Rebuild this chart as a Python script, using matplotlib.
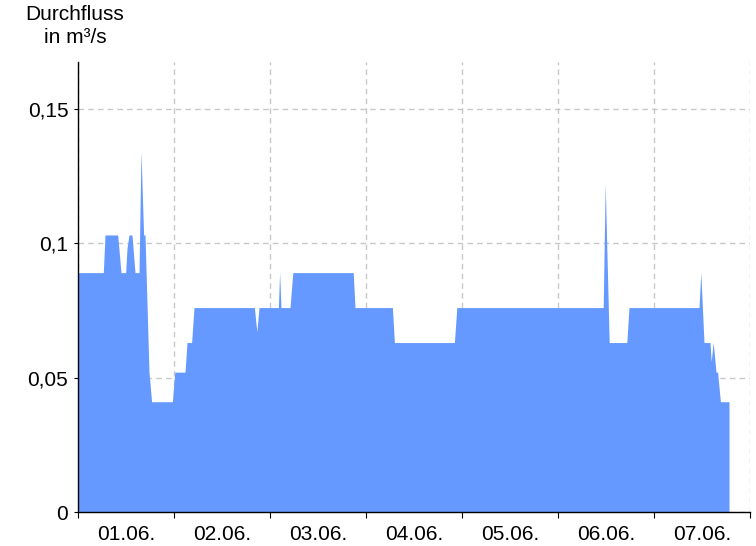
import matplotlib
matplotlib.use("Agg")
import matplotlib.pyplot as plt
import numpy as np

plt.rcParams['font.family'] = ['Liberation Sans', 'DejaVu Sans']

# hours since 01.06. 00:00 and discharge in m3/s
hours = [0, 6.33, 6.75, 9.92, 10.4, 10.75, 11.92, 12.25, 12.75, 13.5, 14.25,
         15.25, 15.75, 16.4, 16.75, 17.75, 18.4, 23.6, 24.2, 26.75, 27.25,
         28.4, 29.0, 44.1, 44.7, 45.25, 50.1, 50.4, 50.75, 53.0, 53.7, 68.8,
         69.25, 78.6, 79.1, 94.1, 94.7, 131.3, 131.8, 132.8, 137.2, 137.75,
         155.25, 155.7, 156.5, 158.0, 158.3, 158.8, 159.5, 159.9, 160.6, 162.75]
flow = [0.089, 0.089, 0.103, 0.103, 0.095, 0.089, 0.089, 0.098, 0.103, 0.103, 0.089,
        0.089, 0.134, 0.103, 0.103, 0.052, 0.041, 0.041, 0.052, 0.052, 0.063,
        0.063, 0.076, 0.076, 0.067, 0.076, 0.076, 0.089, 0.076, 0.076, 0.089, 0.089,
        0.076, 0.076, 0.063, 0.063, 0.076, 0.076, 0.122, 0.063, 0.063, 0.076,
        0.076, 0.089, 0.063, 0.063, 0.056, 0.063, 0.052, 0.052, 0.041, 0.041]

day_labels = ["01.06.", "02.06.", "03.06.", "04.06.", "05.06.", "06.06.", "07.06."]
y_ticks = [0, 0.05, 0.1, 0.15]
y_labels = ["0", "0,05", "0,1", "0,15"]

fig = plt.figure(figsize=(7.56, 5.46), dpi=100)
ax = fig.add_axes([78/756, 1 - 512/546, 672/756, 450/546])

ax.fill_between(hours, flow, 0, color="#6699ff", lw=0, zorder=2)

ax.set_xlim(0, 168)
ax.set_ylim(0, 0.1673)

ax.set_xticks(np.arange(0, 169, 24))
ax.set_xticklabels([])
ax.set_xticks(np.arange(12, 168, 24), minor=True)
ax.set_xticklabels(day_labels, minor=True, fontsize=15)
ax.tick_params(axis="x", which="minor", length=0, pad=9)
ax.tick_params(axis="x", which="major", length=4, direction="out")

ax.set_yticks(y_ticks)
ax.set_yticklabels(y_labels, fontsize=15)
ax.tick_params(axis="y", length=3, direction="out", pad=4)

ax.grid(True, which="major", color="#c8c8c8", linestyle=(0, (4, 3)), lw=1, zorder=1)
ax.set_axisbelow(True)

for s in ["top", "right"]:
    ax.spines[s].set_visible(False)
ax.spines["left"].set_linewidth(1)
ax.spines["bottom"].set_linewidth(1)

fig.text(75/756, 1 - 5/546, "Durchfluss\nin m³/s", ha="center", va="top",
         fontsize=15, linespacing=1.25, multialignment="center")

fig.savefig("out.png", dpi=100)
